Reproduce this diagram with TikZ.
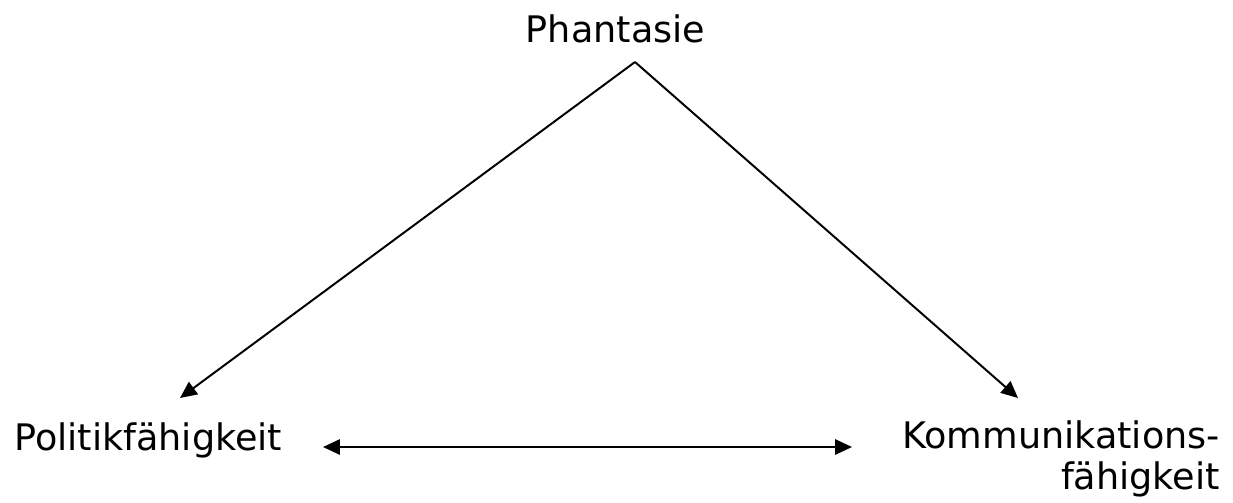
\documentclass[tikz,border=0pt]{standalone}
\usepackage{fontspec}
\setmainfont{DejaVu Sans}
\usepackage{tikz}
\usetikzlibrary{positioning,arrows.meta}

\begin{document}
\begin{tikzpicture}[x=0.025cm, y=-0.025cm,
    lbl/.style={inner sep=0pt, font=\fontsize{26}{28.5}\selectfont},
    arr/.style={line width=1.4pt, -{Triangle[length=4.2mm, width=3.8mm]}},
    biarr/.style={line width=1.4pt, {Triangle[length=4.2mm, width=3.8mm]}-{Triangle[length=4.2mm, width=3.8mm]}}]
    \useasboundingbox (0,0) rectangle (1233,502);

    \node[lbl, anchor=base] (phan) at (615.5,42) {Phantasie};
    \node[lbl, anchor=base west] (pol) at (14,450) {Politikfähigkeit};
    \node[lbl, anchor=base east, align=right] (kom) at (1220,489) {Kommunikations-\\fähigkeit};

    \coordinate (apex) at (635,62);
    \coordinate (polTip) at (180,398);
    \coordinate (komTip) at (1018,398);
    \coordinate (hl) at (323,447);
    \coordinate (hr) at (852,447);

    \draw[arr] (apex) -- (polTip);
    \draw[arr] (apex) -- (komTip);
    \draw[biarr] (hl) -- (hr);
  \end{tikzpicture}
\end{document}
